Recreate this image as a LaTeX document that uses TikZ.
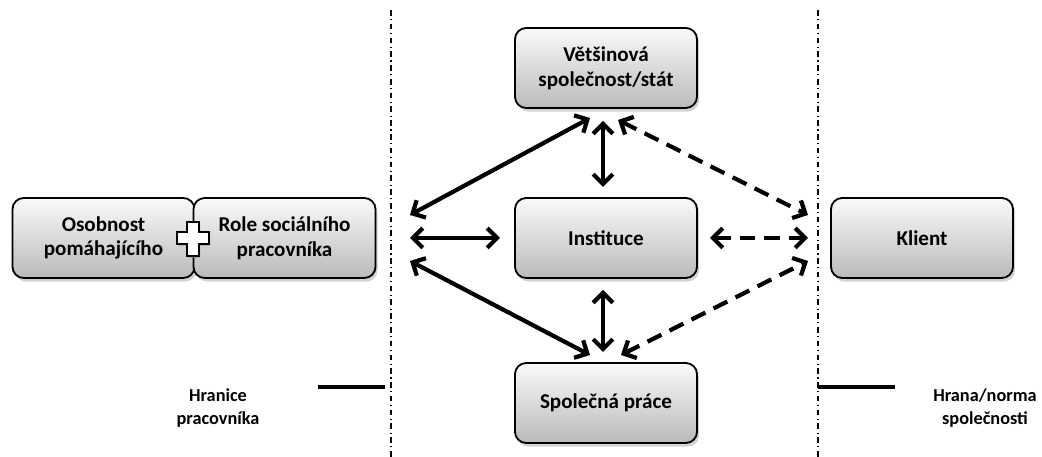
\documentclass[tikz,border=0pt]{standalone}
\usepackage{fontspec}
\setmainfont{Carlito}
\usetikzlibrary{arrows.meta, shadows}

\begin{document}
\begin{tikzpicture}[x=0.025cm, y=-0.025cm]
            \tikzstyle{Box} = [draw, line width=1.3pt, rounded corners=8pt, top color=black!2, bottom color=black!27,
                    minimum width=4.55cm, minimum height=2cm, align=center, font=\bfseries\fontsize{15}{17.5}\selectfont,
                    drop shadow={opacity=0.35, shadow xshift=1.5pt, shadow yshift=-2.5pt}]
            \tikzstyle{Label} = [align=center, inner sep=1pt, font=\bfseries\fontsize{13}{17}\selectfont]
            \tikzstyle{Edge} = [line width=3pt, {Straight Barb[length=7pt, width=14pt]}-{Straight Barb[length=7pt, width=14pt]}]
            \tikzstyle{Dashed Edge} = [Edge, dash pattern=on 11pt off 6.5pt]
            \tikzstyle{Border} = [line width=1.2pt, dash pattern=on 4pt off 2.5pt on 0.8pt off 2.5pt]
            \useasboundingbox (0,0) rectangle (1042,457);
            % boxes
            \node[Box] (person) at (103.5, 238) {Osobnost\\pomáhajícího};
            \node[Box] (role) at (284.5, 238) {Role sociálního\\pracovníka};
            \node[Box] (state) at (606, 68) {Většinová\\společnost/stát};
            \node[Box] (inst) at (606, 238) {Instituce};
            \node[Box] (work) at (606, 403) {Společná práce};
            \node[Box] (client) at (922, 238) {Klient};
            % plus
            \filldraw[fill=white, line width=1.3pt, drop shadow={opacity=0.35, shadow xshift=1pt, shadow yshift=-1.5pt}]
                (187,222) -- (199,222) -- (199,232) -- (209,232) -- (209,244) -- (199,244) -- (199,256)
                -- (187,256) -- (187,244) -- (177,244) -- (177,232) -- (187,232) -- cycle;
            % borders
            \coordinate (bl top) at (391, 10);
            \coordinate (bl bottom) at (391, 457);
            \coordinate (br top) at (818, 10);
            \coordinate (br bottom) at (818, 457);
            \draw[Border] (bl top) -- (bl bottom);
            \draw[Border] (br top) -- (br bottom);
            \coordinate (bl a) at (318, 387);
            \coordinate (bl b) at (385, 387);
            \coordinate (br a) at (818, 387);
            \coordinate (br b) at (895, 387);
            \draw[line width=3pt] (bl a) -- (bl b);
            \draw[line width=3pt] (br a) -- (br b);
            \node[Label] (worker edge) at (218, 408) {Hranice\\pracovníka};
            \node[Label] (society edge) at (985, 408) {Hrana/norma\\společnosti};
            % arrow ends
            \coordinate (w1) at (410, 215);
            \coordinate (w2) at (410, 238);
            \coordinate (w3) at (410, 261);
            \coordinate (c1) at (808, 215);
            \coordinate (c2) at (808, 238);
            \coordinate (c3) at (808, 261);
            \coordinate (s1) at (590, 118);
            \coordinate (s2) at (603, 121);
            \coordinate (s3) at (618, 120);
            \coordinate (p1) at (590, 355);
            \coordinate (p2) at (603, 352);
            \coordinate (p3) at (621, 355);
            \draw[Edge] (w1) -- (s1);
            \draw[Edge] (w2) -- (500, 238);
            \draw[Edge] (w3) -- (p1);
            \draw[Edge] (s2) -- (603, 187);
            \draw[Edge] (603, 290) -- (p2);
            \draw[Dashed Edge] (s3) -- (c1);
            \draw[Dashed Edge] (710, 238) -- (c2);
            \draw[Dashed Edge] (p3) -- (c3);
        \end{tikzpicture}
\end{document}
